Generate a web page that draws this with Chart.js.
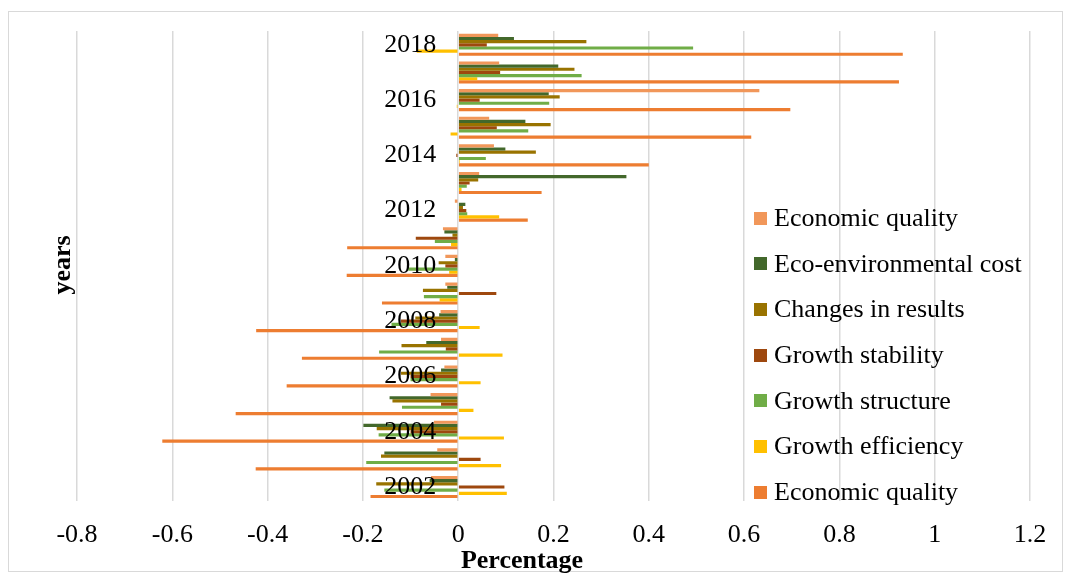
<!DOCTYPE html>
<html>
<head>
<meta charset="utf-8">
<script src="https://cdn.jsdelivr.net/npm/chart.js@4"></script>
<style>
    body { margin: 0; background: #fff; }
    #wrap { position: relative; width: 1066px; height: 574px; font-family: 'Liberation Serif', serif; }
    #frame { position: absolute; left: 8px; top: 11px; width: 1053px; height: 559px; border: 1px solid #d9d9d9; }
    #legend { position: absolute; left: 754px; top: 195px; }
    .item { height: 45.7px; line-height: 45.7px; font-size: 26px; color: #000; white-space: nowrap; }
    .item span { display: inline-block; width: 13px; height: 13px; margin-right: 7px; vertical-align: middle; position: relative; top: -2px; }
    #ytitle { position: absolute; left: 62px; top: 265px; transform: translate(-50%, -50%) rotate(-90deg); font-size: 26px; font-weight: bold; }
    #xtitle { position: absolute; left: 522px; top: 560px; transform: translate(-50%, -50%); font-size: 26px; font-weight: bold; white-space: nowrap; }
</style>
</head>
<body>
<div id="wrap">
    <div id="frame"></div>
    <canvas id="chart" width="1066" height="574"></canvas>
    <div id="legend"></div>
    <div id="ytitle">years</div>
    <div id="xtitle">Percentage</div>
</div>
<script>
const years = ['2002', '2003', '2004', '2005', '2006', '2007', '2008', '2009', '2010',
    '2011', '2012', '2013', '2014', '2015', '2016', '2017', '2018'];

const seriesNames = ['Economic quality', 'Eco-environmental cost', 'Changes in results',
    'Growth stability', 'Growth structure', 'Growth efficiency', 'Economic quality'];

const seriesColours = ['#F1975A', '#43682B', '#997300', '#9E480E', '#70AD47', '#FFC000', '#ED7D31'];

// values per year, 2002 -> 2018
const economicQualityTop = [-0.057, -0.044, -0.051, -0.058, -0.029, -0.036, -0.037, -0.027, -0.027,
    -0.032, -0.007, 0.044, 0.075, 0.065, 0.632, 0.086, 0.084];
const ecoEnvironmentalCost = [-0.06, -0.155, -0.199, -0.144, -0.036, -0.067, -0.04, -0.023, -0.007,
    -0.029, 0.015, 0.353, 0.099, 0.141, 0.19, 0.21, 0.117];
const changesInResults = [-0.172, -0.162, -0.171, -0.138, -0.12, -0.119, -0.09, -0.074, -0.041,
    -0.012, 0.01, 0.042, 0.163, 0.194, 0.213, 0.244, 0.269];
const growthStability = [0.097, 0.047, -0.1, -0.036, -0.1, -0.026, -0.12, 0.08, -0.027,
    -0.089, 0.017, 0.024, -0.004, 0.081, 0.045, 0.088, 0.06];
const growthStructure = [-0.155, -0.193, -0.167, -0.118, -0.1, -0.166, -0.14, -0.072, -0.105,
    -0.049, 0.019, 0.018, 0.058, 0.147, 0.191, 0.259, 0.493];
const growthEfficiency = [0.102, 0.09, 0.096, 0.032, 0.047, 0.093, 0.045, -0.039, -0.019,
    -0.015, 0.086, 0.007, 0.003, -0.016, -0.003, 0.04, -0.087];
const economicQuality = [-0.184, -0.425, -0.621, -0.467, -0.36, -0.328, -0.424, -0.16, -0.234,
    -0.233, 0.146, 0.175, 0.4, 0.615, 0.697, 0.925, 0.933];

const seriesValues = [economicQualityTop, ecoEnvironmentalCost, changesInResults,
    growthStability, growthStructure, growthEfficiency, economicQuality];

Chart.defaults.font.family = "'Liberation Serif', serif";
Chart.defaults.color = '#000';

function buildLegend() {
    const legend = document.getElementById('legend');
    seriesNames.forEach((name, i) => {
        const row = document.createElement('div');
        row.className = 'item';
        row.innerHTML = `<span style="background:${seriesColours[i]}"></span>${name}`;
        legend.appendChild(row);
    });
}

function renderChart() {
    const ctx = document.getElementById('chart').getContext('2d');
    new Chart(ctx, {
        type: 'bar',
        data: {
            labels: years,
            datasets: seriesNames.map((name, i) => ({
                label: name,
                data: seriesValues[i],
                backgroundColor: seriesColours[i],
                barPercentage: 1,
                categoryPercentage: 0.8,
            })),
        },
        options: {
            indexAxis: 'y',
            responsive: false,
            animation: false,
            layout: {
                padding: { left: 77, right: 36, top: 31, bottom: 4 },
            },
            plugins: {
                legend: { display: false },
                tooltip: { enabled: false },
            },
            scales: {
                x: {
                    min: -0.8,
                    max: 1.2,
                    ticks: {
                        stepSize: 0.2,
                        padding: 19,
                        font: { size: 26 },
                        callback: (v) => Math.round(v * 10) / 10,
                    },
                    grid: { color: '#d9d9d9', lineWidth: 1.5, drawTicks: false },
                    border: { display: false },
                },
                y: {
                    reverse: true,
                    // year labels sit a little left of the zero line, as in the original
                    position: { x: -0.046 },
                    ticks: {
                        z: 1,
                        autoSkip: false,
                        padding: 0,
                        font: { size: 26 },
                        callback: function (v, i) {
                            const y = years[i];
                            return Number(y) % 2 === 0 ? y : '';
                        },
                    },
                    grid: { display: false, drawTicks: false },
                    border: { display: false },
                },
            },
        },
    });
}

buildLegend();
renderChart();
</script>
</body>
</html>
